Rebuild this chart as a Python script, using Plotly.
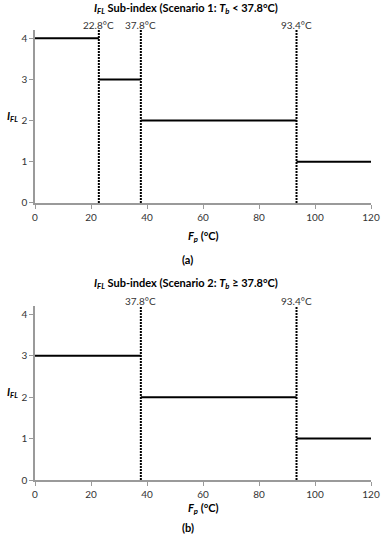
import plotly.graph_objects as go
from plotly.subplots import make_subplots

# Umbrales (°C) y niveles del sub-índice I_FL para cada escenario
cortes_a = [0, 22.8, 37.8, 93.4, 120]
niveles_a = [4, 3, 2, 1]
umbrales_a = [22.8, 37.8, 93.4]

cortes_b = [0, 37.8, 93.4, 120]
niveles_b = [3, 2, 1]
umbrales_b = [37.8, 93.4]

x_ticks = [0, 20, 40, 60, 80, 100, 120]
y_ticks = [0, 1, 2, 3, 4]
Y_MAX = 4.2

FUENTE = "Lato"
GRIS = "#9a9a9a"
TEXTO = "#333333"

fig = make_subplots(rows=2, cols=1, vertical_spacing=0.23)


def _panel(fila, cortes, niveles, umbrales):
    sufijo = "" if fila == 1 else "2"
    xs, ys = [], []
    for i, nivel in enumerate(niveles):
        xs += [cortes[i], cortes[i + 1], None]
        ys += [nivel, nivel, None]
    fig.add_trace(go.Scatter(x=xs, y=ys, mode="lines",
                             line=dict(color="black", width=2),
                             showlegend=False, hoverinfo="skip"), row=fila, col=1)
    for u in umbrales:
        fig.add_trace(go.Scatter(x=[u, u], y=[0, Y_MAX], mode="lines",
                                 line=dict(color="black", width=2, dash="2px,1px"),
                                 showlegend=False, hoverinfo="skip"), row=fila, col=1)
        fig.add_annotation(x=u, y=Y_MAX, xref="x" + sufijo, yref="y" + sufijo,
                           text=f"{u}°C", showarrow=False, xanchor="center",
                           yanchor="middle", yshift=5,
                           font=dict(family=FUENTE, size=10, color=TEXTO))


_panel(1, cortes_a, niveles_a, umbrales_a)
_panel(2, cortes_b, niveles_b, umbrales_b)

fig.update_xaxes(range=[0, 120], tickvals=x_ticks, showgrid=False, zeroline=False,
                 showline=True, linecolor=GRIS, linewidth=1.5, ticks="outside",
                 ticklen=4, tickcolor=GRIS, tickfont=dict(family=FUENTE, size=10, color=TEXTO))
fig.update_yaxes(range=[0, Y_MAX], tickvals=y_ticks, showgrid=False, zeroline=False,
                 showline=True, linecolor=GRIS, linewidth=1.5, ticks="outside",
                 ticklen=4, tickcolor=GRIS, tickfont=dict(family=FUENTE, size=10, color=TEXTO))

fig.update_layout(
    width=392, height=537, paper_bgcolor="white", plot_bgcolor="white",
    margin=dict(l=35, r=12, t=30, b=57), showlegend=False,
    yaxis=dict(domain=[0.6156, 1.0]), yaxis2=dict(domain=[0.0, 0.3867]),
    xaxis=dict(anchor="y"), xaxis2=dict(anchor="y2"),
)

# Títulos y etiquetas como anotaciones (desplazamiento fino en px)
textos = [
    ("<b><i>I<sub>FL</sub></i> Sub-index (Scenario 1: <i>T<sub>b</sub></i> &lt; 37.8°C)</b>", 0.45, 1.0, 22),
    ("<b><i>F<sub>p</sub></i> (°C)</b>", 0.5, 0.6156, -34),
    ("<b>(a)</b>", 0.455, 0.6156, -57),
    ("<b><i>I<sub>FL</sub></i> Sub-index (Scenario 2: <i>T<sub>b</sub></i> ≥ 37.8°C)</b>", 0.45, 0.3867, 22),
    ("<b><i>F<sub>p</sub></i> (°C)</b>", 0.5, 0.0, -28),
    ("<b>(b)</b>", 0.455, 0.0, -47),
]
for texto, x, y, dy in textos:
    fig.add_annotation(x=x, y=y, xref="paper", yref="paper", text=texto,
                       showarrow=False, xanchor="center", yanchor="middle", yshift=dy,
                       font=dict(family=FUENTE, size=11, color="black"))

for y in [(0.6156 + 1.0) / 2, 0.3867 / 2]:
    fig.add_annotation(x=0, y=y, xref="paper", yref="paper", xshift=-23,
                       text="<b><i>I<sub>FL</sub></i></b>", showarrow=False,
                       xanchor="center", yanchor="middle",
                       font=dict(family=FUENTE, size=11, color="black"))

fig.write_html("out.html", config={"displayModeBar": False},
               post_script="document.body.style.margin='0';")
